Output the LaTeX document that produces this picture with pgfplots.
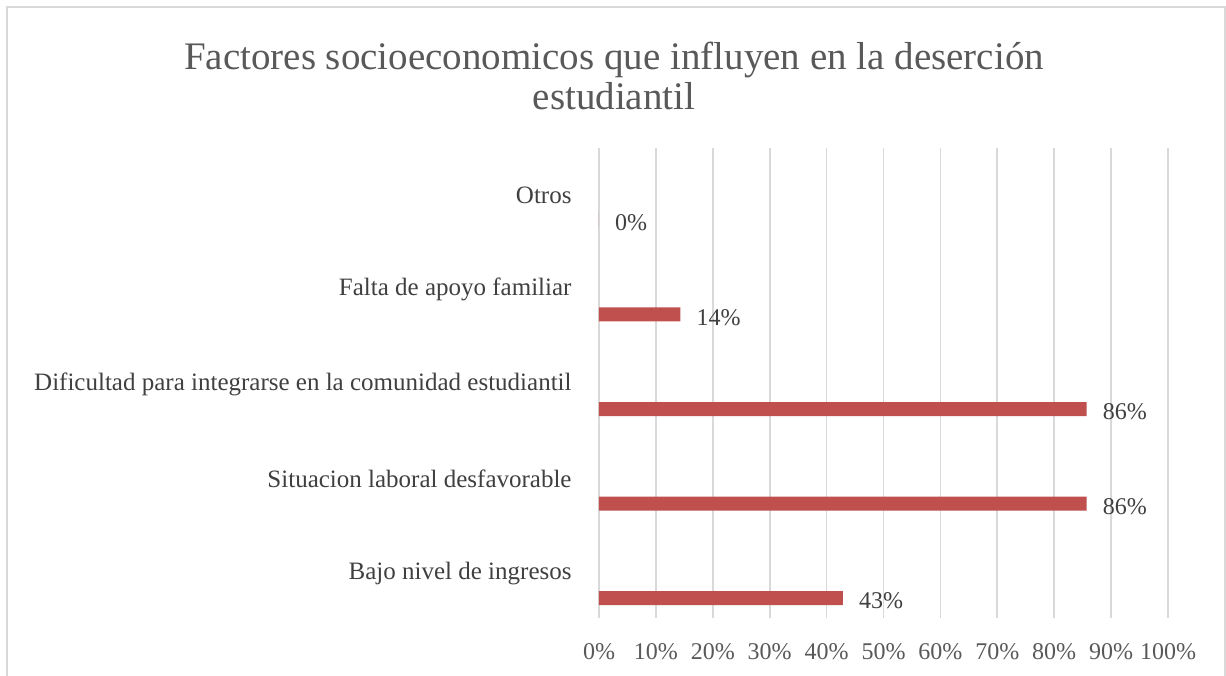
\documentclass[border=0pt]{standalone}
\usepackage{fontspec}
\setmainfont{Liberation Serif}
\usepackage{pgfplots}
\pgfplotsset{compat=1.18}
\definecolor{barred}{HTML}{C0504D}
\definecolor{gridgray}{HTML}{D9D9D9}
\definecolor{txtgray}{HTML}{595959}
\definecolor{lblgray}{HTML}{404040}
\begin{document}
\begin{tikzpicture}[x=1pt,y=1pt]
\useasboundingbox (0,0) rectangle (1226,675);
\fill[white] (0,0) rectangle (1226,675);
\draw[gridgray, line width=1.5pt] (7,-10) -- (7,668) -- (1225,668) -- (1225,-10);
\node[text=txtgray, font=\fontsize{39}{46}\selectfont, anchor=base, inner sep=0pt] at (614,605) {Factores socioeconomicos que influyen en la deserción};
\node[text=txtgray, font=\fontsize{39}{46}\selectfont, anchor=base, inner sep=0pt] at (614,565) {estudiantil};
\begin{axis}[
  at={(599pt,57pt)}, anchor=south west,
  scale only axis, width=569pt, height=470pt,
  xbar, bar width=14pt,
  xmin=0, xmax=100, ymin=-0.21, ymax=4.76,
  xtick={0,10,...,100},
  xticklabels={0\%,10\%,20\%,30\%,40\%,50\%,60\%,70\%,80\%,90\%,100\%},
  ytick={0.26,1.26,2.26,3.26,4.26},
  yticklabels={Bajo nivel de ingresos,Situacion laboral desfavorable,Dificultad para integrarse en la comunidad estudiantil,Falta de apoyo familiar,Otros},
  xmajorgrids, major grid style={gridgray, line width=1.7pt},
  axis line style={draw=none}, tick style={draw=none},
  xticklabel style={font=\fontsize{24}{28}\selectfont, text=txtgray, inner sep=0pt, anchor=north, yshift=-25pt},
  yticklabel style={font=\fontsize{25}{30}\selectfont, text=lblgray, inner sep=0pt, anchor=east, xshift=-23pt},
  point meta=explicit symbolic,
  nodes near coords,
  nodes near coords style={font=\fontsize{24}{28}\selectfont, text=lblgray, anchor=west, xshift=14pt, yshift=-3pt, inner sep=2pt},
]
\addplot[fill=barred, draw=none] coordinates {
  (42.86,0) [43\%]
  (85.71,1) [86\%]
  (85.71,2) [86\%]
  (14.29,3) [14\%]
  (0,4) [0\%]
};
\end{axis}
\end{tikzpicture}
\end{document}
